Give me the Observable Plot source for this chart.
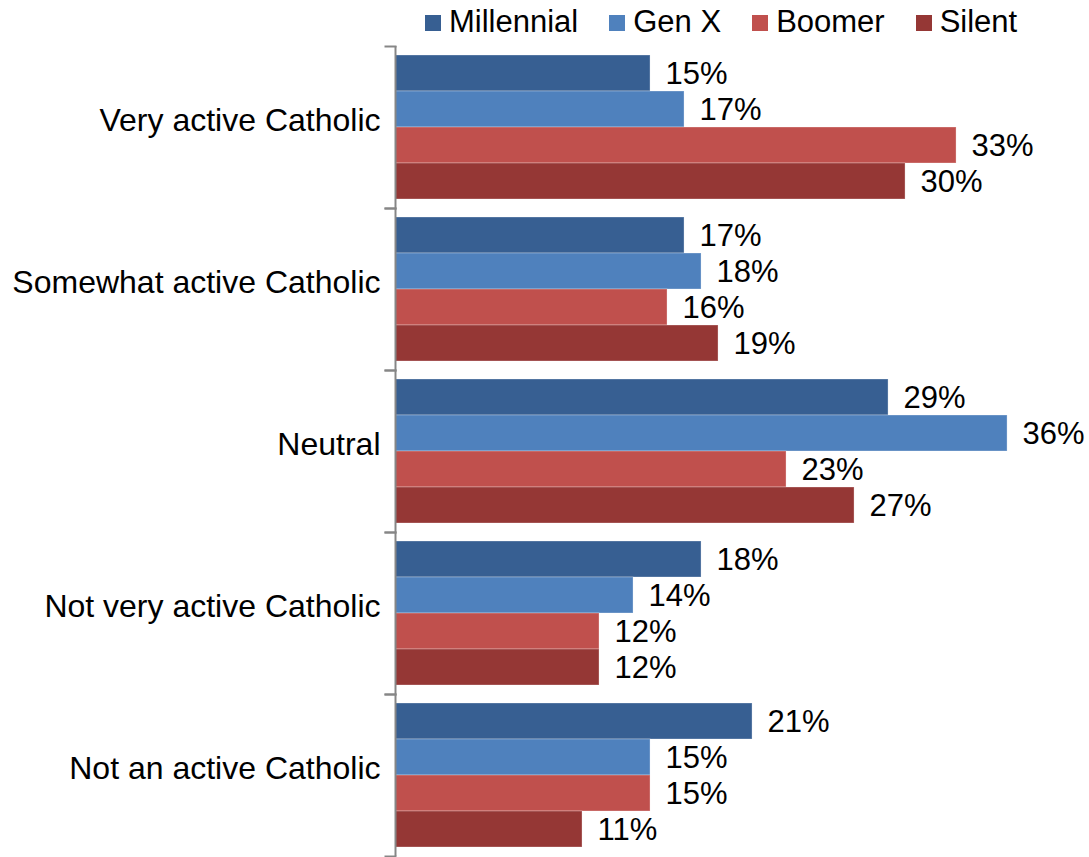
<!DOCTYPE html>
<html><head><meta charset="utf-8">
<script src="https://cdn.jsdelivr.net/npm/d3@7"></script>
<script src="https://cdn.jsdelivr.net/npm/@observablehq/plot@0.6"></script>
<style>
body{margin:0;background:#fff;font-family:'Liberation Sans',Arial,sans-serif;}
#legend{height:45px;display:flex;align-items:center;padding-left:425px;font-size:31px;color:#000;line-height:1;}
.item{display:flex;align-items:center;margin-right:31px;}
.sw{width:16px;height:16px;margin-right:8px;}
.lt{position:relative;top:-1px;}
#chart svg{display:block;}
</style></head><body>
<div id="legend"></div><div id="chart"></div>
<script>
const categories = ["Very active Catholic","Somewhat active Catholic","Neutral","Not very active Catholic","Not an active Catholic"];
const series = ["Millennial","Gen X","Boomer","Silent"];
const millennial = [15,17,29,18,21];
const genX = [17,18,36,14,15];
const boomer = [33,16,23,12,15];
const silent = [30,19,27,12,11];
const colors = ["#375f92","#4f81bd","#c0504d","#953735"];

const valuesBySeries = [millennial, genX, boomer, silent];
const rows = categories.flatMap((c, i) => series.map((s, j) => ({category: c, series: s, value: valuesBySeries[j][i]})));

const legend = document.getElementById("legend");
series.forEach((s, j) => {
  const it = document.createElement("div"); it.className = "item";
  const sw = document.createElement("div"); sw.className = "sw"; sw.style.background = colors[j];
  const t = document.createElement("span"); t.className = "lt"; t.textContent = s;
  it.appendChild(sw); it.appendChild(t); legend.appendChild(it);
});

const axisColor = "#868686";
const chart = Plot.plot({
  width: 1089, height: 813,
  marginLeft: 395, marginRight: 0, marginTop: 1, marginBottom: 2,
  style: {fontFamily: "'Liberation Sans', Arial, sans-serif", fontSize: "31px", background: "white", color: "black", overflow: "visible"},
  x: {domain: [0, 40.82], axis: null},
  y: {domain: series, paddingInner: 0, paddingOuter: 0.25, axis: null},
  fy: {domain: categories, padding: 0, label: null, axis: null},
  color: {domain: series, range: colors},
  marks: [
    Plot.barX(rows, {x: "value", y: "series", fy: "category", fill: "series", stroke: "white", strokeOpacity: 0.3, strokeWidth: 1}),
    Plot.text(rows, {x: "value", y: "series", fy: "category", text: d => d.value + "%", textAnchor: "start", dx: 15, dy: 1, fontSize: 31, fill: "black"}),
    Plot.ruleX([0], {stroke: axisColor, strokeWidth: 2}),
    Plot.frame({anchor: "top", insetLeft: -10, insetRight: 694, stroke: axisColor, strokeWidth: 2}),
    Plot.frame({anchor: "bottom", insetLeft: -10, insetRight: 694, stroke: axisColor, strokeWidth: 2}),
    Plot.axisFy({anchor: "left", tickSize: 0, tickPadding: 15, fontSize: 32, dy: -7, label: null})
  ]
});
document.getElementById("chart").appendChild(chart);
</script>
</body></html>
